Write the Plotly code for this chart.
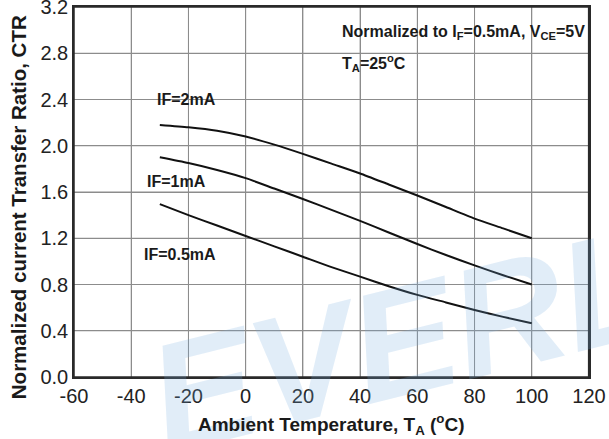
import plotly.graph_objects as go

# ---- data ----
temps = [-30, -20, -10, 0, 10, 20, 30, 40, 50, 60, 70, 80, 90, 100]
ctr_2ma = [2.18, 2.16, 2.13, 2.08, 2.01, 1.93, 1.845, 1.76, 1.665, 1.57, 1.47, 1.37, 1.285, 1.20]
ctr_1ma = [1.90, 1.85, 1.79, 1.72, 1.63, 1.54, 1.445, 1.35, 1.25, 1.15, 1.055, 0.965, 0.88, 0.80]
ctr_05ma = [1.495, 1.40, 1.31, 1.22, 1.13, 1.04, 0.95, 0.868, 0.785, 0.71, 0.645, 0.58, 0.52, 0.465]

x_ticks = [-60, -40, -20, 0, 20, 40, 60, 80, 100, 120]
y_ticks = [0.0, 0.4, 0.8, 1.2, 1.6, 2.0, 2.4, 2.8, 3.2]

FONT = "Liberation Sans, Arial, sans-serif"
GRID = "#8c8c8c"
FRAME = "#2a2a2a"

fig = go.Figure()
for ys in (ctr_2ma, ctr_1ma, ctr_05ma):
    fig.add_trace(go.Scatter(x=temps, y=ys, mode="lines",
                             line=dict(color="#111111", width=2, shape="spline", smoothing=0.6),
                             showlegend=False, hoverinfo="skip"))

# grid lines (drawn as shapes from the tick arrays)
shapes = []
for xv in x_ticks[1:-1]:
    shapes.append(dict(type="line", xref="x", yref="paper", x0=xv, x1=xv, y0=0, y1=1,
                       line=dict(color=GRID, width=1), layer="below"))
for yv in y_ticks[1:-1]:
    shapes.append(dict(type="line", xref="paper", yref="y", x0=0, x1=1, y0=yv, y1=yv,
                       line=dict(color=GRID, width=1), layer="below"))
# frame
shapes.append(dict(type="rect", xref="paper", yref="paper", x0=0, x1=1, y0=0, y1=1,
                   line=dict(color=FRAME, width=1.5), layer="above"))
shapes.append(dict(type="line", xref="paper", yref="paper", x0=1, x1=1, y0=0, y1=1,
                   line=dict(color=FRAME, width=2.2), layer="above"))

annotations = []
# faint watermark of the reference (first, so other texts sit on top of it)
annotations.append(dict(text="<i>EVERL</i>", x=0.64, y=0.10, xref="paper", yref="paper",
                        xanchor="center", yanchor="middle", showarrow=False, textangle=-14,
                        font=dict(family=FONT, size=155, color="rgba(120,175,225,0.22)", weight="bold")))

labels = [
    ("IF=2mA", -31.8, 2.40),
    ("IF=1mA", -35.3, 1.69),
    ("IF=0.5mA", -36.4, 1.056),
    ("Normalized to I<sub>F</sub>=0.5mA, V<sub>CE</sub>=5V", 32.9, 2.98),
    ("T<sub>A</sub>=25<sup>o</sup>C", 32.9, 2.72),
]
for txt, xv, yv in labels:
    annotations.append(dict(text=txt, x=xv, y=yv, xref="x", yref="y",
                            xanchor="left", yanchor="middle", showarrow=False,
                            font=dict(family=FONT, size=16, color="#1a1a1a", weight="bold")))

# axis titles
annotations.append(dict(text="Ambient Temperature, T<sub>A</sub> (<sup>o</sup>C)",
                        x=0.5, y=-0.128, xref="paper", yref="paper",
                        xanchor="center", yanchor="middle", showarrow=False,
                        font=dict(family=FONT, size=19, color="#1a1a1a", weight="bold")))
annotations.append(dict(text="Normalized current Transfer Ratio, CTR",
                        x=-0.108, y=0.46, xref="paper", yref="paper", textangle=-90,
                        xanchor="center", yanchor="middle", showarrow=False,
                        font=dict(family=FONT, size=20.5, color="#1a1a1a", weight="bold")))

fig.update_layout(
    width=609, height=439,
    margin=dict(l=74, r=20, t=7, b=62, autoexpand=False),
    paper_bgcolor="white", plot_bgcolor="white",
    font=dict(family=FONT, color="#1a1a1a"),
    annotations=annotations,
    shapes=shapes,
    xaxis=dict(range=[-60, 120], tickmode="array", tickvals=x_ticks,
               ticktext=[str(v) for v in x_ticks], automargin=False,
               showgrid=True, gridcolor=GRID, gridwidth=1, zeroline=False,
               showline=True, linecolor=FRAME, linewidth=1.5, mirror=True, ticks="",
               ticklabeloverflow="allow",
               tickfont=dict(size=20, color="#222222")),
    yaxis=dict(range=[0, 3.2], tickmode="array", tickvals=y_ticks,
               ticktext=[f"{v:.1f}" for v in y_ticks], automargin=False,
               showgrid=True, gridcolor=GRID, gridwidth=1, zeroline=False,
               showline=True, linecolor=FRAME, linewidth=1.5, mirror=True, ticks="",
               ticklabeloverflow="allow",
               tickfont=dict(size=20, color="#222222")),
)
fig.write_html("out.html")
